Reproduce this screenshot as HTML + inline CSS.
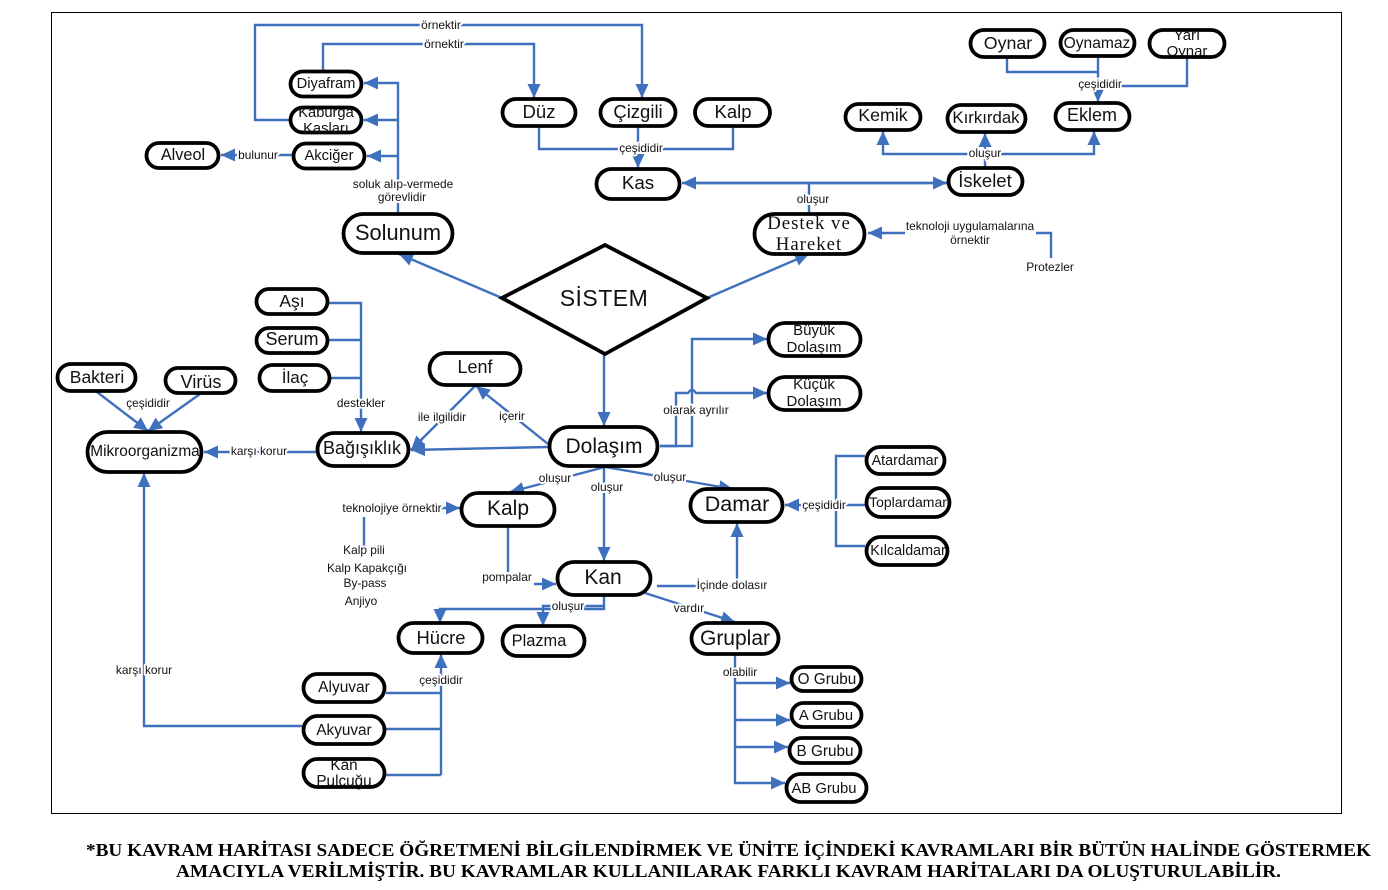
<!DOCTYPE html>
<html lang="tr"><head><meta charset="utf-8"><title>Sistem Kavram Haritası</title>
<style>
html,body{margin:0;padding:0;background:#fff}
svg{display:block}
.e{fill:none;stroke:#3f70bd;stroke-width:2.4}
.n{fill:#fff;stroke:#000;stroke-width:3.8}
text{font-family:"Liberation Sans",sans-serif;text-anchor:middle;fill:#111}
.l{font-size:11.9px;paint-order:stroke;stroke:#fff;stroke-width:4px;stroke-linejoin:round}
.f{font-family:"Liberation Serif",serif;font-weight:bold;font-size:18.2px;fill:#000}
.s{font-family:"Liberation Serif",serif}
</style></head><body>
<svg width="1388" height="890" viewBox="0 0 1388 890" xmlns="http://www.w3.org/2000/svg">
<defs><marker id="a" markerUnits="userSpaceOnUse" markerWidth="15" markerHeight="14" refX="14" refY="7" orient="auto"><path d="M0,0.5 L14,7 L0,13.5 z" fill="#3f70bd"/></marker></defs>
<rect width="1388" height="890" fill="#fff"/>
<rect x="51.5" y="12.5" width="1290" height="801" fill="none" stroke="#000" stroke-width="1"/>

<!-- edges -->
<g class="e">
<path d="M289,120H255V25H642V98" marker-end="url(#a)"/>
<path d="M323,71V44H534V98" marker-end="url(#a)"/>
<path d="M398,213V83H364" marker-end="url(#a)"/>
<path d="M398,120H364" marker-end="url(#a)"/>
<path d="M398,156H367" marker-end="url(#a)"/>
<path d="M292,155H221" marker-end="url(#a)"/>
<path d="M539,127V149H733V127"/>
<path d="M638,127V168" marker-end="url(#a)"/>
<path d="M947,183H682" marker-end="url(#a)"/>
<path d="M690,183H947" marker-end="url(#a)"/>
<path d="M809,213V183"/>
<path d="M905,233H868" marker-end="url(#a)"/>
<path d="M1036,233H1051V258"/>
<path d="M985,167V133" marker-end="url(#a)"/>
<path d="M985,154H883V131" marker-end="url(#a)"/>
<path d="M985,154H1094V131" marker-end="url(#a)"/>
<path d="M1007,58V72H1098"/>
<path d="M1098,57V102" marker-end="url(#a)"/>
<path d="M1187,58V86H1100"/>
<path d="M604,354V426" marker-end="url(#a)"/>
<path d="M329,303H361V432" marker-end="url(#a)"/>
<path d="M329,340H361M331,378H361"/>
<path d="M97,392L148,431" marker-end="url(#a)"/>
<path d="M200,394L148,431" marker-end="url(#a)"/>
<path d="M316,452H204" marker-end="url(#a)"/>
<path d="M548,447L411,450" marker-end="url(#a)"/>
<path d="M475,386L411,450" marker-end="url(#a)"/>
<path d="M548,444L476,386" marker-end="url(#a)"/>
<path d="M660,446H692V339H767" marker-end="url(#a)"/>
<path d="M660,446H676V393H688Q692,387 696,393H767" marker-end="url(#a)"/>
<path d="M605,467L510,492" marker-end="url(#a)"/>
<path d="M604,467V561" marker-end="url(#a)"/>
<path d="M605,467L733,489" marker-end="url(#a)"/>
<path d="M836,505H785" marker-end="url(#a)"/>
<path d="M865,456H836V546H865M836,505H865"/>
<path d="M430,508H460" marker-end="url(#a)"/>
<path d="M364,517V547"/>
<path d="M508,527V572"/>
<path d="M534,584H556" marker-end="url(#a)"/>
<path d="M657,586H737"/>
<path d="M737,586V523" marker-end="url(#a)"/>
<path d="M604,596V609H440V623" marker-end="url(#a)"/>
<path d="M604,606H543V626" marker-end="url(#a)"/>
<path d="M645,593L735,622" marker-end="url(#a)"/>
<path d="M735,655V783H785" marker-end="url(#a)"/>
<path d="M735,683H790" marker-end="url(#a)"/>
<path d="M735,720H790" marker-end="url(#a)"/>
<path d="M735,747H788" marker-end="url(#a)"/>
<path d="M441,775V654" marker-end="url(#a)"/>
<path d="M386,693H441M386,729H441M386,775H441"/>
<path d="M302,726H144V473" marker-end="url(#a)"/>
<path d="M502,298L399,254" marker-end="url(#a)"/>
<path d="M707,298L809,254" marker-end="url(#a)"/>
</g>

<!-- nodes -->
<g class="n">
<polygon points="502,298 605,245 707,298 605,354"/>
<rect x="290.5" y="71.5" width="71" height="25" rx="12.5"/>
<rect x="290.5" y="107.5" width="71" height="25" rx="12.5"/>
<rect x="293.5" y="143.5" width="71" height="25" rx="12.5"/>
<rect x="146.5" y="143" width="72" height="25" rx="12.5"/>
<rect x="502.5" y="99" width="73" height="27" rx="13.5"/>
<rect x="600.5" y="99" width="75" height="27" rx="13.5"/>
<rect x="695" y="99" width="75" height="27" rx="13.5"/>
<rect x="596.5" y="169" width="83" height="30" rx="15"/>
<rect x="343.5" y="214" width="109" height="39" rx="19.5"/>
<rect x="970.5" y="30" width="74" height="27" rx="13.5"/>
<rect x="1060.5" y="30" width="74" height="26" rx="13"/>
<rect x="1149.5" y="30" width="75" height="27" rx="13.5"/>
<rect x="845.5" y="104" width="75" height="26" rx="13"/>
<rect x="947.5" y="105" width="78" height="27" rx="13.5"/>
<rect x="1055.5" y="103" width="74" height="27" rx="13.5"/>
<rect x="948.5" y="168" width="74" height="27" rx="13.5"/>
<rect x="754.5" y="214" width="110" height="40" rx="20"/>
<rect x="256.5" y="289" width="71" height="25" rx="12.5"/>
<rect x="256.5" y="328" width="71" height="25" rx="12.5"/>
<rect x="259.5" y="365" width="70" height="26" rx="13"/>
<rect x="57.5" y="364" width="78" height="27" rx="13.5"/>
<rect x="165.5" y="368" width="70" height="25" rx="12.5"/>
<rect x="429.5" y="353" width="91" height="32" rx="16"/>
<rect x="87.5" y="432" width="114" height="40" rx="20"/>
<rect x="317.5" y="433" width="91" height="33" rx="16.5"/>
<rect x="461.5" y="493" width="93" height="33" rx="16.5"/>
<rect x="768.5" y="323" width="92" height="33" rx="16.5"/>
<rect x="768.5" y="377" width="92" height="33" rx="16.5"/>
<rect x="549.5" y="427" width="108" height="39" rx="19.5"/>
<rect x="690.5" y="489" width="92" height="33" rx="16.5"/>
<rect x="866.5" y="447" width="78" height="27" rx="13.5"/>
<rect x="866.5" y="488" width="83" height="29" rx="14.5"/>
<rect x="866.5" y="537" width="81" height="28" rx="14"/>
<rect x="557.5" y="562" width="93" height="33" rx="16.5"/>
<rect x="398.5" y="623" width="84" height="30" rx="15"/>
<rect x="502.5" y="626" width="82" height="30" rx="15"/>
<rect x="303.5" y="674" width="81" height="28" rx="14"/>
<rect x="303.5" y="716" width="81" height="28" rx="14"/>
<rect x="303.5" y="759" width="81" height="28" rx="14"/>
<rect x="691.5" y="623" width="87" height="31" rx="15.5"/>
<rect x="791.5" y="667" width="70" height="24" rx="12"/>
<rect x="791.5" y="703" width="70" height="24" rx="12"/>
<rect x="789.5" y="738" width="71" height="25" rx="12.5"/>
<rect x="786.5" y="774" width="80" height="28" rx="14"/>
</g>

<!-- node text -->
<g>
<text x="326" y="88" font-size="14.7">Diyafram</text>
<text x="326" y="117" font-size="14.7">Kaburga</text>
<text x="326" y="133" font-size="14.7">Kasları</text>
<text x="329" y="160" font-size="14.7">Akciğer</text>
<text x="183" y="160" font-size="16.3">Alveol</text>
<text x="539" y="118" font-size="18.5">Düz</text>
<text x="638" y="118" font-size="18.5">Çizgili</text>
<text x="733" y="118" font-size="18.5">Kalp</text>
<text x="638" y="189" font-size="18.8">Kas</text>
<text x="398" y="240" font-size="21.8">Solunum</text>
<text x="1008" y="49" font-size="17.8">Oynar</text>
<text x="1097" y="48" font-size="15.6">Oynamaz</text>
<text x="1187" y="40" font-size="15">Yarı</text>
<text x="1187" y="56" font-size="15">Oynar</text>
<text x="883" y="121" font-size="17.8">Kemik</text>
<text x="986" y="123" font-size="16.8">Kırkırdak</text>
<text x="1092" y="121" font-size="18">Eklem</text>
<text x="985" y="187" font-size="18.5">İskelet</text>
<text x="292" y="307" font-size="17.5">Aşı</text>
<text x="292" y="345" font-size="18">Serum</text>
<text x="295" y="383" font-size="17">İlaç</text>
<text x="97" y="383" font-size="17.5">Bakteri</text>
<text x="201" y="388" font-size="18">Virüs</text>
<text x="475" y="373" font-size="18">Lenf</text>
<text x="145" y="456" font-size="15.4">Mikroorganizma</text>
<text x="362" y="454" font-size="18">Bağışıklık</text>
<text x="508" y="515" font-size="21">Kalp</text>
<text x="814" y="335" font-size="15">Büyük</text>
<text x="814" y="352" font-size="15">Dolaşım</text>
<text x="814" y="389" font-size="15">Küçük</text>
<text x="814" y="406" font-size="15">Dolaşım</text>
<text x="604" y="453" font-size="21">Dolaşım</text>
<text x="737" y="511" font-size="21.5">Damar</text>
<text x="905" y="465" font-size="14.3">Atardamar</text>
<text x="908" y="507" font-size="14">Toplardamar</text>
<text x="908" y="555" font-size="14.3">Kılcaldamar</text>
<text x="603" y="584" font-size="21">Kan</text>
<text x="441" y="644" font-size="18.4">Hücre</text>
<text x="539" y="646" font-size="16.4">Plazma</text>
<text x="344" y="692" font-size="15.5">Alyuvar</text>
<text x="344" y="735" font-size="15.3">Akyuvar</text>
<text x="344" y="770" font-size="15.3">Kan</text>
<text x="344" y="786" font-size="15.3">Pulcuğu</text>
<text x="735" y="645" font-size="21">Gruplar</text>
<text x="827" y="684" font-size="15.3">O Grubu</text>
<text x="826" y="720" font-size="14.8">A Grubu</text>
<text x="825" y="756" font-size="15.3">B Grubu</text>
<text x="824" y="793" font-size="14.8">AB Grubu</text>
<text x="604" y="306" font-size="23" letter-spacing=".5">SİSTEM</text>
<text class="s" x="809" y="229" font-size="18.8" letter-spacing="1">Destek ve</text>
<text class="s" x="809" y="250" font-size="18.8" letter-spacing="1">Hareket</text>
</g>

<!-- labels -->
<g class="l">
<text x="441" y="29">örnektir</text>
<text x="444" y="48">örnektir</text>
<text x="258" y="159">bulunur</text>
<text x="403" y="188">soluk alıp-vermede</text>
<text x="402" y="201">görevlidir</text>
<text x="641" y="152">çeşididir</text>
<text x="813" y="203">oluşur</text>
<text x="970" y="230">teknoloji uygulamalarına</text>
<text x="970" y="244">örnektir</text>
<text x="1050" y="271">Protezler</text>
<text x="985" y="157">oluşur</text>
<text x="1100" y="88">çeşididir</text>
<text x="361" y="407">destekler</text>
<text x="148" y="407">çeşididir</text>
<text x="259" y="455">karşı korur</text>
<text x="442" y="421">ile ilgilidir</text>
<text x="512" y="420">içerir</text>
<text x="696" y="414">olarak ayrılır</text>
<text x="555" y="482">oluşur</text>
<text x="607" y="491">oluşur</text>
<text x="670" y="481">oluşur</text>
<text x="824" y="509">çeşididir</text>
<text x="392" y="512">teknolojiye örnektir</text>
<text x="364" y="554">Kalp pili</text>
<text x="367" y="572">Kalp Kapakçığı</text>
<text x="365" y="587">By-pass</text>
<text x="361" y="605">Anjiyo</text>
<text x="507" y="581">pompalar</text>
<text x="732" y="589">İçinde dolasır</text>
<text x="568" y="610">oluşur</text>
<text x="689" y="612">vardır</text>
<text x="740" y="676">olabilir</text>
<text x="441" y="684">çeşididir</text>
<text x="144" y="674">karşı korur</text>
</g>

<text class="f" x="728.5" y="856" textLength="1285" lengthAdjust="spacingAndGlyphs">*BU KAVRAM HARİTASI SADECE ÖĞRETMENİ BİLGİLENDİRMEK VE ÜNİTE İÇİNDEKİ KAVRAMLARI BİR BÜTÜN HALİNDE GÖSTERMEK</text>
<text class="f" x="728.5" y="877" textLength="1105" lengthAdjust="spacingAndGlyphs">AMACIYLA VERİLMİŞTİR. BU KAVRAMLAR KULLANILARAK FARKLI KAVRAM HARİTALARI DA OLUŞTURULABİLİR.</text>
</svg>
</body></html>
